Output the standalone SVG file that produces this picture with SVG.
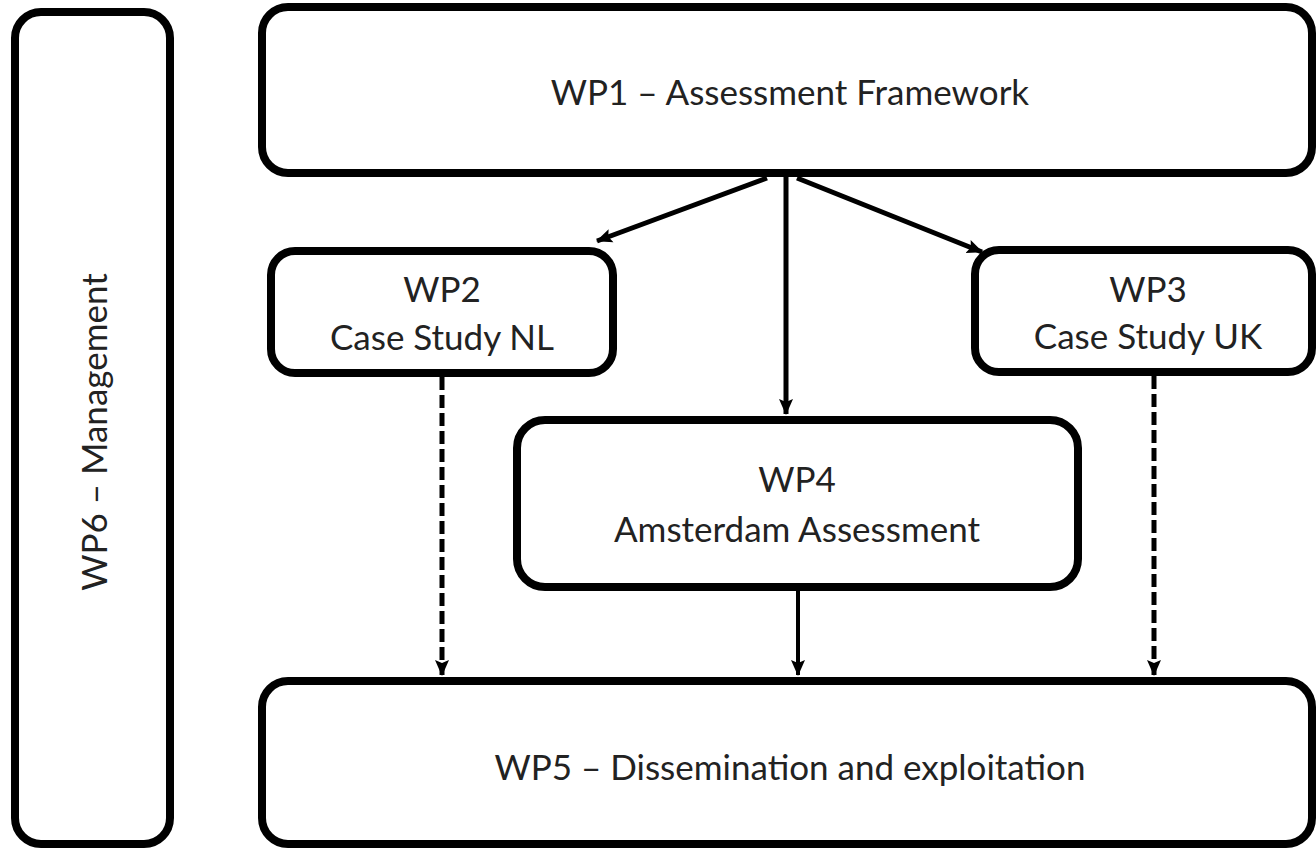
<svg xmlns="http://www.w3.org/2000/svg" width="1316" height="848" viewBox="0 0 1316 848">
  <style>
    .box { fill: #ffffff; stroke: #000000; stroke-width: 8; }
    .lbl { font-family: Lato, "Open Sans", "Liberation Sans", sans-serif; font-size: 35px; fill: #222222; text-anchor: middle; }
    .conn { stroke: #000000; fill: none; }
    .solid { stroke-width: 5; }
    .thin { stroke-width: 4; }
    .dash { stroke-width: 5; stroke-dasharray: 13 5; }
  </style>
  <defs>
    <marker id="arrow" markerUnits="userSpaceOnUse" markerWidth="16" markerHeight="16" viewBox="0 0 16 16" refX="15" refY="8" orient="auto">
      <path d="M0,1 L16,8 L0,15 L3,8 z" fill="#000000"/>
    </marker>
  </defs>
  <rect width="1316" height="848" fill="#ffffff"/>

  <g id="wp6">
    <rect class="box" x="15" y="12" width="155" height="832" rx="26" ry="26"/>
    <text class="lbl" transform="translate(107,432) rotate(-90)">WP6 – Management</text>
  </g>

  <g id="wp1">
    <rect class="box" x="262" y="7" width="1050" height="166" rx="26" ry="26"/>
    <text class="lbl" x="790" y="105">WP1 – Assessment Framework</text>
  </g>

  <g id="wp2">
    <rect class="box" x="271" y="251" width="342" height="122" rx="24" ry="24"/>
    <text class="lbl" x="442" y="302">WP2</text>
    <text class="lbl" x="442" y="350">Case Study NL</text>
  </g>

  <g id="wp3">
    <rect class="box" x="975" y="250" width="337" height="122" rx="24" ry="24"/>
    <text class="lbl" x="1148" y="302">WP3</text>
    <text class="lbl" x="1148" y="349">Case Study UK</text>
  </g>

  <g id="wp4">
    <rect class="box" x="517" y="420" width="561" height="167" rx="28" ry="28"/>
    <text class="lbl" x="797" y="492">WP4</text>
    <text class="lbl" x="797" y="542">Amsterdam Assessment</text>
  </g>

  <g id="wp5">
    <rect class="box" x="262" y="681" width="1050" height="163" rx="26" ry="26"/>
    <text class="lbl" x="790" y="780">WP5 – Dissemination and exploitation</text>
  </g>

  <g id="connectors">
    <line class="conn solid" x1="767" y1="178" x2="597" y2="241" marker-end="url(#arrow)"/>
    <line class="conn solid" x1="786" y1="177" x2="786" y2="414" marker-end="url(#arrow)"/>
    <line class="conn solid" x1="797" y1="178" x2="982" y2="252" marker-end="url(#arrow)"/>
    <line class="conn dash" x1="442" y1="377" x2="442" y2="675" marker-end="url(#arrow)"/>
    <line class="conn dash" x1="1154" y1="376" x2="1154" y2="675" marker-end="url(#arrow)"/>
    <line class="conn thin" x1="798" y1="591" x2="798" y2="675" marker-end="url(#arrow)"/>
  </g>
</svg>
